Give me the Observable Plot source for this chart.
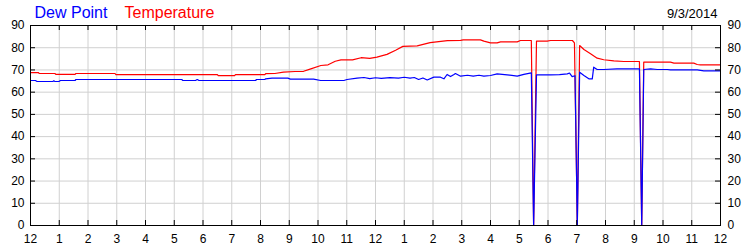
<!DOCTYPE html>
<html>
<head>
<meta charset="utf-8">
<script src="https://cdn.jsdelivr.net/npm/d3@7"></script>
<script src="https://cdn.jsdelivr.net/npm/@observablehq/plot@0.6"></script>
<style>
  html, body { margin: 0; padding: 0; background: #ffffff; }
  #chart svg { display: block; }
</style>
</head>
<body>
<div id="chart"></div>
<script>
// ---- data (hours since midnight, °F) ----
const tempHours = [0, 0.28, 0.3, 0.85, 0.88, 1.55, 1.58, 2.94, 2.97, 6.5, 6.53, 7.1, 7.13, 8.15, 8.18, 8.5, 8.8, 9.2, 9.5, 9.75, 10.1, 10.35, 10.6, 10.8, 11.2, 11.5, 11.8, 12.05, 12.4, 12.7, 12.95, 13.45, 13.9, 14.5, 14.96, 15.05, 15.65, 15.77, 16.0, 16.23, 16.35, 16.93, 17.04, 17.42, 17.5, 17.6, 17.97, 18.09, 18.85, 18.92, 19.02, 19.1, 19.25, 19.48, 19.71, 19.94, 20.29, 20.64, 21.18, 21.26, 21.33, 22.26, 22.38, 23.07, 23.19, 23.3, 24];
const tempValues = [68.8, 68.8, 68.4, 68.4, 68.0, 68.0, 68.4, 68.4, 67.9, 67.9, 67.4, 67.4, 67.9, 67.9, 68.3, 68.4, 69.0, 69.3, 69.4, 70.5, 72.0, 72.3, 73.9, 74.5, 74.5, 75.5, 75.2, 75.8, 77.0, 78.9, 80.6, 80.8, 82.3, 83.2, 83.3, 83.55, 83.55, 82.95, 82.2, 82.2, 82.65, 82.65, 83.25, 83.25, 0, 82.95, 82.95, 83.25, 83.25, 82.2, 0, 81.0, 79.2, 77.3, 75.3, 74.6, 74.1, 73.8, 73.8, 0, 73.5, 73.5, 73.05, 73.05, 72.45, 72.3, 72.3];

const dewHours = [0, 0.17, 0.23, 0.78, 0.81, 0.85, 0.99, 1.04, 1.55, 1.58, 5.26, 5.3, 5.74, 5.8, 5.86, 7.83, 7.86, 8.15, 8.18, 8.4, 8.95, 9.04, 9.85, 10.09, 10.9, 11.01, 11.36, 11.6, 11.8, 12.0, 12.2, 12.5, 12.8, 13.0, 13.2, 13.35, 13.5, 13.65, 13.8, 14.03, 14.26, 14.38, 14.49, 14.61, 14.73, 14.78, 14.96, 15.2, 15.4, 15.6, 15.77, 16.0, 16.23, 16.58, 16.93, 17.16, 17.42, 17.5, 17.6, 18.09, 18.4, 18.67, 18.75, 18.84, 18.94, 19.02, 19.1, 19.25, 19.42, 19.54, 19.59, 19.71, 19.94, 20.4, 21.18, 21.26, 21.33, 21.57, 21.8, 22.15, 22.26, 23.19, 23.42, 24];
const dewValues = [65.25, 65.25, 64.8, 64.8, 65.1, 64.8, 64.8, 65.25, 65.25, 65.7, 65.7, 65.25, 65.25, 65.7, 65.25, 65.25, 65.7, 65.7, 66.0, 66.3, 66.3, 65.85, 65.85, 65.25, 65.25, 65.7, 66.3, 66.6, 66.1, 66.5, 66.2, 66.5, 66.3, 66.7, 66.3, 66.6, 65.7, 66.4, 65.5, 66.75, 66.75, 66.0, 67.95, 67.0, 67.95, 68.4, 67.2, 67.6, 67.2, 67.6, 67.2, 67.5, 68.2, 67.8, 67.2, 68.0, 68.7, 0, 67.8, 67.8, 67.9, 68.25, 68.6, 67.0, 67.4, 0, 69.0, 67.5, 66.0, 66.0, 71.25, 70.2, 70.2, 70.5, 70.5, 0, 70.2, 70.5, 70.2, 70.2, 70.05, 70.05, 69.6, 69.6];

const hourTicks = [0, 1, 2, 3, 4, 5, 6, 7, 8, 9, 10, 11, 12, 13, 14, 15, 16, 17, 18, 19, 20, 21, 22, 23, 24];
const hourLabels = ["12", "1", "2", "3", "4", "5", "6", "7", "8", "9", "10", "11", "12", "1", "2", "3", "4", "5", "6", "7", "8", "9", "10", "11", "12"];
const valueTicks = [0, 10, 20, 30, 40, 50, 60, 70, 80, 90];

const seriesNames = ["Dew Point", "Temperature"];
const dateLabel = "9/3/2014";

// ---- build tables ----
const temp = tempHours.map((h, i) => ({h, v: tempValues[i]}));
const dew = dewHours.map((h, i) => ({h, v: dewValues[i]}));

const FONT = 'Arial, "Liberation Sans", sans-serif';

const chart = Plot.plot({
  width: 750,
  height: 250,
  marginLeft: 30,
  marginRight: 30,
  marginTop: 25,
  marginBottom: 25,
  style: {fontFamily: FONT, fontSize: "12px", background: "#ffffff", color: "#000", overflow: "visible"},
  x: {domain: [0, 24]},
  y: {domain: [0, 90]},
  marks: [
    Plot.gridX({ticks: hourTicks, stroke: "#d0d0d0", strokeOpacity: 1}),
    Plot.gridY({ticks: valueTicks, stroke: "#d0d0d0", strokeOpacity: 1}),
    Plot.line(temp, {x: "h", y: "v", stroke: "#ff0000", strokeWidth: 1.2}),
    Plot.line(dew, {x: "h", y: "v", stroke: "#0000ff", strokeWidth: 1.2}),
    Plot.frame({stroke: "#000", strokeWidth: 1}),
    // inward tick marks
    Plot.tickX(hourTicks, {x: d => d, insetTop: 195, stroke: "#000"}),
    Plot.tickX(hourTicks, {x: d => d, insetBottom: 195, stroke: "#000"}),
    Plot.tickY(valueTicks, {y: d => d, insetRight: 685, stroke: "#000"}),
    Plot.tickY(valueTicks, {y: d => d, insetLeft: 685, stroke: "#000"}),
    // axes (labels only)
    Plot.axisX({anchor: "bottom", ticks: hourTicks, tickSize: 0, tickPadding: 9, label: null,
      tickFormat: d => hourLabels[hourTicks.indexOf(d)], fontSize: 12}),
    Plot.axisY({anchor: "left", ticks: valueTicks, tickSize: 0, tickPadding: 6, label: null, fontSize: 12}),
    Plot.axisY({anchor: "right", ticks: valueTicks, tickSize: 0, tickPadding: 7, label: null, fontSize: 12}),
    // header texts
    Plot.text([seriesNames[0]], {frameAnchor: "top-left", text: d => d, textAnchor: "start", lineAnchor: "bottom",
      dx: 4, dy: -7.5, fill: "#0000ff", fontSize: 16}),
    Plot.text([seriesNames[1]], {frameAnchor: "top-left", text: d => d, textAnchor: "start", lineAnchor: "bottom",
      dx: 94, dy: -7.5, fill: "#ff0000", fontSize: 16}),
    Plot.text([dateLabel], {frameAnchor: "top-right", text: d => d, textAnchor: "end", lineAnchor: "bottom",
      dx: -3, dy: -8, fill: "#000", fontSize: 13})
  ]
});

document.getElementById("chart").appendChild(chart);
</script>
</body>
</html>
